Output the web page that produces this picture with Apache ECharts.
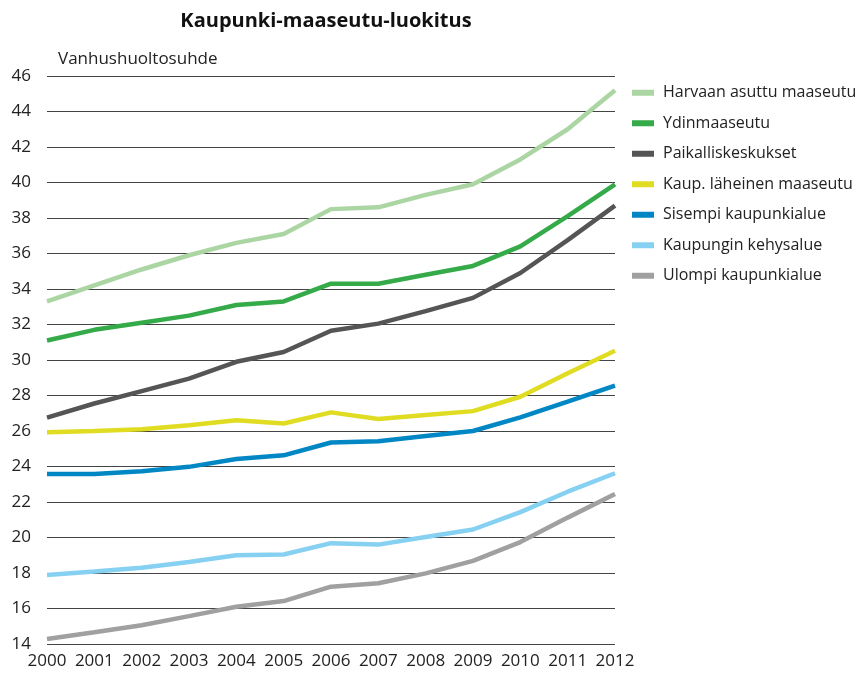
<!DOCTYPE html>
<html>
<head>
<meta charset="utf-8">
<script src="https://cdn.jsdelivr.net/npm/echarts@6/dist/echarts.min.js"></script>
<style>
  html, body { margin: 0; padding: 0; background: #fff; }
  #chart { width: 859px; height: 673px; }
</style>
</head>
<body>
<div id="chart"></div>
<script>
var years = ['2000','2001','2002','2003','2004','2005','2006','2007','2008','2009','2010','2011','2012'];

var harvaan   = [33.3, 34.2, 35.1, 35.9, 36.6, 37.1, 38.5, 38.6, 39.3, 39.9, 41.3, 43.0, 45.2];
var ydin      = [31.1, 31.7, 32.1, 32.5, 33.1, 33.3, 34.3, 34.3, 34.8, 35.3, 36.4, 38.1, 39.9];
var paikalli  = [26.75, 27.55, 28.25, 28.95, 29.9, 30.45, 31.65, 32.05, 32.75, 33.5, 34.9, 36.75, 38.7];
var lahei     = [25.93, 26.0, 26.1, 26.33, 26.6, 26.42, 27.05, 26.68, 26.9, 27.12, 27.93, 29.25, 30.52];
var sisempi   = [23.58, 23.58, 23.73, 23.98, 24.42, 24.63, 25.35, 25.42, 25.72, 26.0, 26.77, 27.65, 28.55];
var kehys     = [17.89, 18.08, 18.3, 18.62, 19.0, 19.04, 19.68, 19.6, 20.03, 20.45, 21.43, 22.58, 23.62];
var ulompi    = [14.28, 14.66, 15.06, 15.57, 16.1, 16.42, 17.23, 17.42, 17.98, 18.68, 19.74, 21.12, 22.45];

var names = ['Harvaan asuttu maaseutu','Ydinmaaseutu','Paikalliskeskukset','Kaup. läheinen maaseutu','Sisempi kaupunkialue','Kaupungin kehysalue','Ulompi kaupunkialue'];
var colors = ['#abd6a3','#34aa48','#555555','#e0dc22','#0087c4','#86d0f2','#a0a0a0'];
var values = [harvaan, ydin, paikalli, lahei, sisempi, kehys, ulompi];

var font = 'Open Sans';

var series = [];
for (var i = 0; i < names.length; i++) {
  series.push({
    name: names[i],
    type: 'line',
    data: values[i],
    symbol: 'none',
    lineStyle: { width: 4.5, color: colors[i] },
    itemStyle: { color: colors[i] },
    animation: false
  });
}

var chart = echarts.init(document.getElementById('chart'));
chart.setOption({
  textStyle: { fontFamily: font },
  title: [{
    text: 'Kaupunki-maaseutu-luokitus',
    left: 321, top: 6, textAlign: 'center',
    textStyle: { fontSize: 20, fontWeight: 'bold', color: '#111', fontFamily: font }
  }, {
    text: 'Vanhushuoltosuhde',
    left: 53, top: 46,
    textStyle: { fontSize: 17, fontWeight: 'normal', color: '#222', fontFamily: font }
  }],
  legend: {
    orient: 'vertical',
    left: 627, top: 78,
    itemWidth: 22, itemHeight: 6,
    itemGap: 11,
    icon: 'rect',
    data: names,
    textStyle: { fontSize: 16, color: '#222', fontFamily: font, padding: [0, 0, 0, 4], lineHeight: 19.5 }
  },
  grid: { left: 47, right: 244, top: 76, bottom: 29, containLabel: false },
  xAxis: {
    type: 'category',
    data: years,
    boundaryGap: false,
    axisLine: { show: false },
    axisTick: { show: false },
    axisLabel: { fontSize: 17, color: '#222', margin: 9, interval: 0, fontFamily: font }
  },
  yAxis: {
    type: 'value',
    min: 14, max: 46, interval: 2,
    axisLine: { show: false },
    axisTick: { show: false },
    axisLabel: { fontSize: 17, color: '#222', margin: 16, fontFamily: font },
    splitLine: { lineStyle: { color: '#444', width: 1 } }
  },
  series: series
});
</script>
</body>
</html>
